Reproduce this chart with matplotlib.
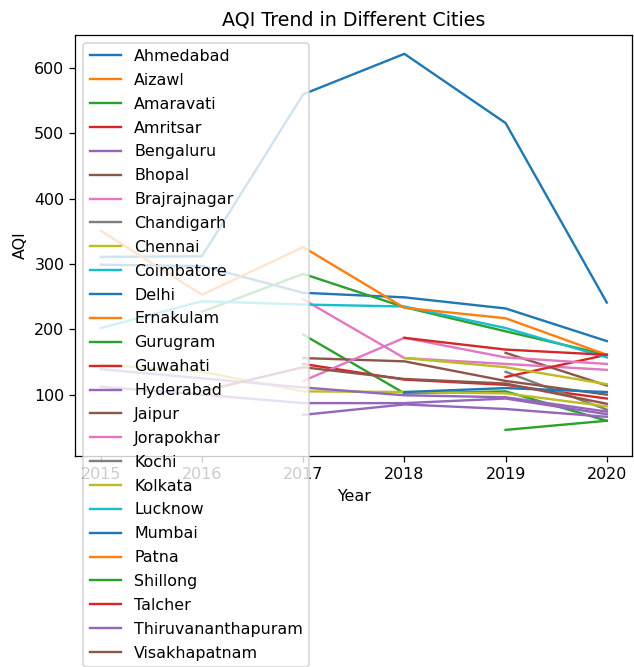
import matplotlib
matplotlib.use("Agg")
import matplotlib.pyplot as plt
import numpy as np

nan = np.nan

years = [2015, 2016, 2017, 2018, 2019, 2020]

cities = [
    "Ahmedabad", "Aizawl", "Amaravati", "Amritsar", "Bengaluru", "Bhopal",
    "Brajrajnagar", "Chandigarh", "Chennai", "Coimbatore", "Delhi",
    "Ernakulam", "Gurugram", "Guwahati", "Hyderabad", "Jaipur",
    "Jorapokhar", "Kochi", "Kolkata", "Lucknow", "Mumbai", "Patna",
    "Shillong", "Talcher", "Thiruvananthapuram", "Visakhapatnam",
]

# yearly mean AQI per city (nan = no data that year)
aqi = [
    [311, 312, 560, 622, 516, 241],   # Ahmedabad
    [nan, nan, nan, nan, nan, 35],    # Aizawl
    [nan, nan, 192, 102, 105, 60],    # Amaravati
    [nan, nan, 147, 123, 115, 94],    # Amritsar
    [112, 100, 87, 87, 94, 70],       # Bengaluru
    [nan, nan, nan, nan, 164, 114],   # Bhopal
    [nan, nan, 246, 156, 147, 138],   # Brajrajnagar
    [nan, nan, nan, nan, 135, 77],    # Chandigarh
    [146, 135, 105, 104, 102, 82],    # Chennai
    [nan, nan, nan, nan, nan, 70],    # Coimbatore
    [299, 297, 256, 249, 232, 182],   # Delhi
    [nan, nan, nan, nan, nan, 75],    # Ernakulam
    [nan, 227, 285, 234, 197, 161],   # Gurugram
    [nan, nan, nan, nan, 127, 161],   # Guwahati
    [139, 125, 111, 99, 96, 74],      # Hyderabad
    [nan, nan, 156, 151, 121, 100],   # Jaipur
    [nan, nan, 121, 187, 157, 147],   # Jorapokhar
    [nan, nan, nan, nan, nan, 80],    # Kochi
    [nan, nan, nan, 156, 142, 116],   # Kolkata
    [202, 243, 238, 235, 202, 157],   # Lucknow
    [nan, nan, nan, 104, 110, 104],   # Mumbai
    [351, 253, 326, 233, 217, 161],   # Patna
    [nan, nan, nan, nan, 46, 60],     # Shillong
    [nan, nan, nan, 187, 169, 161],   # Talcher
    [nan, nan, 69, 85, 78, 66],       # Thiruvananthapuram
    [nan, 105, 142, 124, 117, 86],    # Visakhapatnam
]

dpi = 114
fig = plt.figure(figsize=(634 / dpi, 667 / dpi), dpi=dpi)
ax = fig.add_axes([0.119, 0.316, 0.878, 0.632])

for city, vals in zip(cities, aqi):
    ax.plot(years, vals, label=city)

ax.set_title("AQI Trend in Different Cities")
ax.set_xlabel("Year")
ax.set_ylabel("AQI")
# legend is taller than the axes and spills below it, as in the original
ax.legend(loc="upper left", labelspacing=0.56)

fig.savefig("out.png", dpi=dpi)
plt.close(fig)
